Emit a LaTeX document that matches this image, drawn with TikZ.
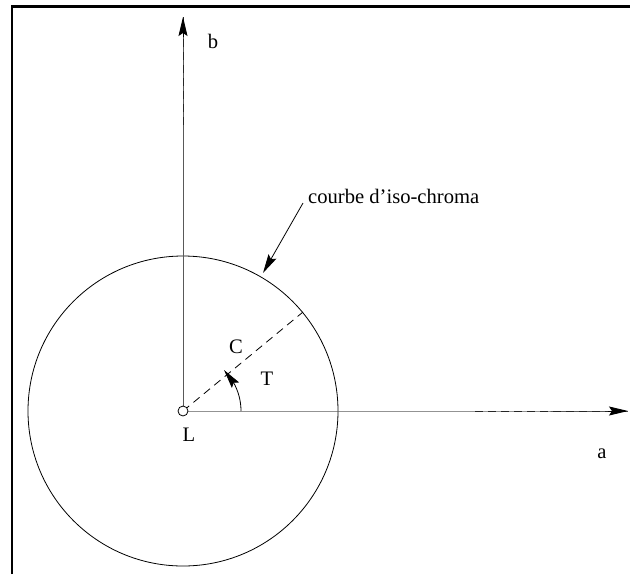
\documentclass[tikz,border=0pt]{standalone}
\usepackage{fontspec}
\setmainfont{Liberation Serif}
\usetikzlibrary{arrows.meta,bending,calc}
\begin{document}
\begin{tikzpicture}[x=1pt,y=-1pt,
  lbl/.style={inner sep=0pt,font=\fontsize{20.6}{24}\selectfont},
  tip/.style={-{Stealth[length=19pt,width=9pt,inset=3pt]}},
  axisline/.style={line width=0.9pt,black!65},
  axisdash/.style={line width=1pt,black!85,dash pattern=on 8pt off 5pt},
  thin/.style={line width=0.8pt,black}]
\useasboundingbox (0,0) rectangle (630,574);
% frame
\draw[line width=2.6pt] (12,574) -- (12,6.5) -- (630,6.5);
% points
\coordinate (L) at (183,411);
\coordinate (btop) at (183,17);
\coordinate (bdash) at (183,125);
\coordinate (aend) at (628,411);
\coordinate (adash) at (475,411);
\coordinate (Cend) at (303,312);
% circle
\draw[thin] (L) circle[radius=155];
% axes
\draw[axisline] (L) -- (bdash);
\draw[axisline] (bdash) -- (btop);
\draw[axisdash] (bdash) -- (btop);
\draw[axisline,tip,black] ($(btop)+(0,20)$) -- (btop);
\draw[axisline] (L) -- (adash) -- (aend);
\draw[axisdash] (adash) -- (aend);
\draw[axisline,tip,black] ($(aend)+(-20,0)$) -- (aend);
% radius C
\draw[thin,dash pattern=on 8pt off 5.5pt] (L) -- (Cend);
% small circle at L
\draw[thin,fill=white] (L) circle[radius=5];
% angle T
\draw[thin,tip] ($(L)+(58,0)$) arc[start angle=0,end angle=-45,radius=58];
% labels
\node[lbl,anchor=base] (b) at (213,48) {b};
\node[lbl,anchor=base] (a) at (602,458) {a};
\node[lbl,anchor=base] (Llab) at (189,441) {L};
\node[lbl,anchor=base] (C) at (236,353) {C};
\node[lbl,anchor=base] (T) at (267,385) {T};
\node[lbl,anchor=base west] (curve) at (308,203) {courbe d’iso-chroma};
\coordinate (ptr) at (303,203);
\coordinate (ptrtip) at (263,273);
\draw[thin,tip] (ptr) -- (ptrtip);
\end{tikzpicture}
\end{document}
